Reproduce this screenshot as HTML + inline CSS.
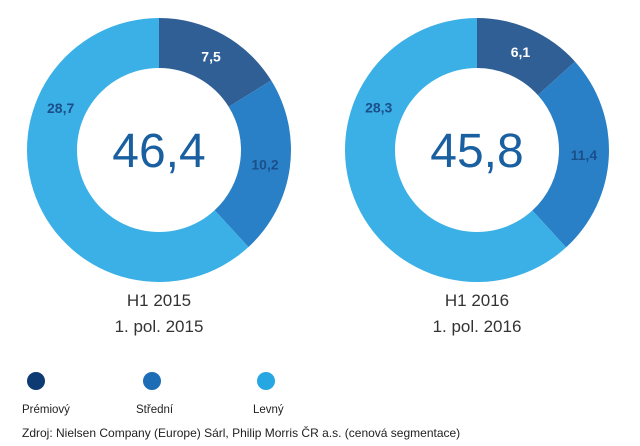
<!DOCTYPE html>
<html><head><meta charset="utf-8"><style>
body{margin:0;background:#fff;width:640px;height:446px;overflow:hidden;font-family:"Liberation Sans",sans-serif}
svg{display:block}
</style></head><body>
<svg id="chart" width="640" height="446">
<g id="donuts"></g>
<text x="159" y="306" text-anchor="middle" font-size="17" fill="#333">H1 2015</text>
<text x="159" y="332" text-anchor="middle" font-size="17" fill="#333">1. pol. 2015</text>
<text x="477" y="306" text-anchor="middle" font-size="17" fill="#333">H1 2016</text>
<text x="477" y="332" text-anchor="middle" font-size="17" fill="#333">1. pol. 2016</text>
<g>
<circle cx="36" cy="381" r="9" fill="#0d3a73"/>
<text x="22" y="413" font-size="11.5" fill="#222">Prémiový</text>
<circle cx="152" cy="381" r="9" fill="#1c6db5"/>
<text x="136" y="413" font-size="11.5" fill="#222">Střední</text>
<circle cx="266" cy="381" r="9" fill="#27a7e1"/>
<text x="253" y="413" font-size="11.5" fill="#222">Levný</text>
</g>
<text x="22" y="437" font-size="12" fill="#222">Zdroj: Nielsen Company (Europe) Sárl, Philip Morris ČR a.s. (cenová segmentace)</text>
</svg>
<script>
const years = ["2015", "2016"];
const premium = [7.5, 6.1];
const middle = [10.2, 11.4];
const cheap = [28.7, 28.3];
const totals = ["46,4", "45,8"];
const colors = ["#2f5f95", "#2a80c6", "#3bb0e6"];
const labelColors = ["#fff", "#1b4f8a", "#1b4f8a"];
const labelPos = [0.5, 0.5, 0.7];
const NS = "http://www.w3.org/2000/svg";
const g = document.getElementById("donuts");
const centers = [159, 477], cy = 150, R = 132, r = 82;
function pt(a, rad, cx) { return [cx + rad * Math.sin(a), cy - rad * Math.cos(a)]; }
years.forEach((y, i) => {
  const vals = [premium[i], middle[i], cheap[i]];
  const sum = vals.reduce((a, b) => a + b, 0);
  const cx = centers[i];
  let a0 = 0;
  vals.forEach((v, k) => {
    const a1 = a0 + v / sum * 2 * Math.PI;
    const large = a1 - a0 > Math.PI ? 1 : 0;
    const [x0, y0] = pt(a0, R, cx), [x1, y1] = pt(a1, R, cx);
    const [x2, y2] = pt(a1, r, cx), [x3, y3] = pt(a0, r, cx);
    const p = document.createElementNS(NS, "path");
    p.setAttribute("d", `M${x0},${y0}A${R},${R} 0 ${large} 1 ${x1},${y1}L${x2},${y2}A${r},${r} 0 ${large} 0 ${x3},${y3}Z`);
    p.setAttribute("fill", colors[k]);
    
    
    g.appendChild(p);
    const am = a0 + (a1 - a0) * labelPos[k];
    const [lx, ly] = pt(am, (R + r) / 2, cx);
    const t = document.createElementNS(NS, "text");
    t.setAttribute("x", lx); t.setAttribute("y", ly + 5);
    t.setAttribute("text-anchor", "middle");
    t.setAttribute("font-size", "14"); t.setAttribute("font-weight", "bold");
    t.setAttribute("fill", labelColors[k]);
    t.textContent = String(v).replace(".", ",");
    
    
    g.appendChild(t);
    a0 = a1;
  });
  const c = document.createElementNS(NS, "text");
  c.setAttribute("x", cx); c.setAttribute("y", cy + 17);
  c.setAttribute("text-anchor", "middle");
  c.setAttribute("font-size", "48"); c.setAttribute("fill", "#1a5fa0");
  c.textContent = totals[i];
  
  
  g.appendChild(c);
});
</script>
</body></html>
